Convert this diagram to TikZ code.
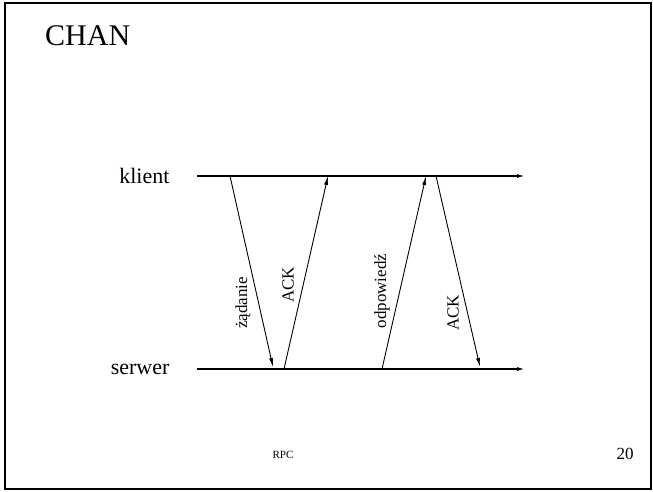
\documentclass[tikz,border=0pt]{standalone}
\usepackage{fontspec}
\setmainfont{Liberation Serif}
\usepackage{tikz}
\usetikzlibrary{arrows.meta}
\usetikzlibrary{positioning,calc}
\newcommand{\fsz}[1]{\fontsize{#1}{#1}\selectfont}

\begin{document}
\begin{tikzpicture}[x=1pt,y=-1pt,
    axis/.style={line width=1.4pt,-{Latex[length=8pt,width=4pt]}},
    msg/.style={line width=0.9pt,-{Latex[length=9pt,width=4pt]}},
    lbl/.style={rotate=90,inner sep=1pt,font=\fsz{17}}]
  \useasboundingbox (0,0) rectangle (653,491);
  \draw[line width=2pt] (5,3) rectangle (651,489);
  \node[anchor=base west,inner sep=0pt,font=\fsz{30}] (title) at (45,45) {CHAN};
  % time lines
  \coordinate (k0) at (197,176); \coordinate (k1) at (525,176);
  \coordinate (s0) at (197,369); \coordinate (s1) at (525,369);
  \draw[axis] (k0) -- (k1);
  \draw[axis] (s0) -- (s1);
  \node[anchor=east,font=\fsz{22}] (klient) at ([xshift=-24pt]k0) {klient};
  \node[anchor=east,font=\fsz{22}] (serwer) at ([xshift=-24pt]s0) {serwer};
  % messages
  \coordinate (a0) at (230,176); \coordinate (a1) at (273,367);
  \coordinate (b0) at (284,369); \coordinate (b1) at (328,176);
  \coordinate (c0) at (382,369); \coordinate (c1) at (426,176);
  \coordinate (d0) at (436,176); \coordinate (d1) at (480,367);
  \draw[msg] (a0) -- (a1);
  \draw[msg] (b0) -- (b1);
  \draw[msg] (c0) -- (c1);
  \draw[msg] (d0) -- (d1);
  \node[lbl] (zad) at (243,303) {żądanie};
  \node[lbl] (ack1) at (288,285) {ACK};
  \node[lbl] (odp) at (382,291) {odpowiedź};
  \node[lbl] (ack2) at (453,313) {ACK};
  % footer
  \node[font=\fsz{11}] (rpc) at (283,455) {RPC};
  \node[font=\fsz{17}] (nr) at (625,454) {20};
\end{tikzpicture}
\end{document}
